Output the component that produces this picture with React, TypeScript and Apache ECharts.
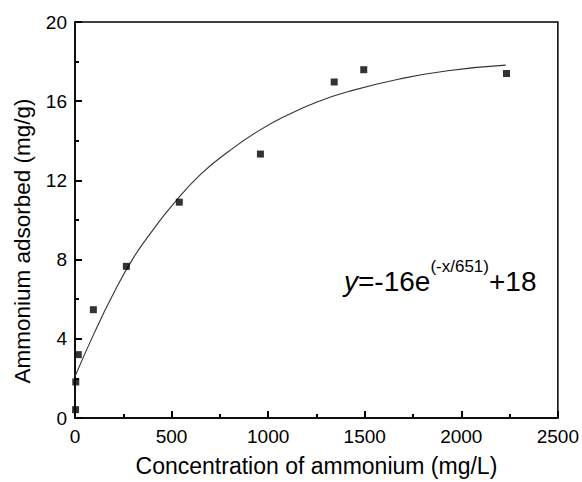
import React, { useEffect, useRef } from "react";
import * as echarts from "echarts";

const xTicks = [0, 500, 1000, 1500, 2000, 2500];
const yTicks = [0, 4, 8, 12, 16, 20];

// measured data points: concentration (mg/L), adsorbed (mg/g)
const pointX = [3, 4, 17, 95, 266, 540, 960, 1342, 1495, 2234];
const pointY = [0.42, 1.82, 3.2, 5.47, 7.66, 10.9, 13.33, 16.97, 17.59, 17.4];

// fitted curve
const curveX = [0, 100, 200, 300, 400, 500, 650, 800, 950, 1100, 1250, 1420, 1680, 1930, 2230];
const curveY = [2.1, 4.3, 6.3, 8.05, 9.45, 10.7, 12.3, 13.5, 14.5, 15.3, 15.95, 16.5, 17.12, 17.54, 17.82];

const xTitle = "Concentration of ammonium (mg/L)";
const yTitle = "Ammonium adsorbed (mg/g)";

const FONT = "'Liberation Sans', Arial, sans-serif";

export default function App() {
  const ref = useRef<HTMLDivElement>(null);
  useEffect(() => {
    if (!ref.current) return;
    const chart = echarts.init(ref.current, undefined, { renderer: "svg" });
    const points = pointX.map((x, i) => [x, pointY[i]]);
    const curve = curveX.map((x, i) => [x, curveY[i]]);
    chart.setOption({
      animation: false,
      backgroundColor: "#fff",
      textStyle: { fontFamily: FONT },
      grid: {
        left: 75,
        right: 22,
        top: 22,
        bottom: 62,
        show: true,
        borderColor: "#000",
        borderWidth: 1.5,
        backgroundColor: "transparent",
      },
      xAxis: {
        type: "value",
        min: xTicks[0],
        max: xTicks[xTicks.length - 1],
        interval: 500,
        name: xTitle,
        nameLocation: "middle",
        nameGap: 36,
        nameTextStyle: { fontSize: 23, color: "#000", fontFamily: FONT },
        axisLine: { show: true, onZero: false, lineStyle: { color: "#000", width: 1.5 } },
        axisTick: { show: true, inside: true, length: 7, lineStyle: { color: "#000", width: 2 } },
        minorTick: { show: true, splitNumber: 2, length: 4, lineStyle: { color: "#000", width: 2 } },
        axisLabel: {
          fontSize: 19,
          color: "#000",
          margin: 9,
          fontFamily: FONT,
          formatter: (v: number) => String(v),
        },
        splitLine: { show: false },
      },
      yAxis: {
        type: "value",
        min: yTicks[0],
        max: yTicks[yTicks.length - 1],
        interval: 4,
        axisLine: { show: true, onZero: false, lineStyle: { color: "#000", width: 1.5 } },
        axisTick: { show: true, inside: true, length: 7, lineStyle: { color: "#000", width: 2 } },
        minorTick: { show: true, splitNumber: 2, length: 4, lineStyle: { color: "#000", width: 2 } },
        axisLabel: {
          fontSize: 19,
          color: "#000",
          margin: 8,
          fontFamily: FONT,
          formatter: (v: number) => String(v),
        },
        splitLine: { show: false },
      },
      graphic: [
        {
          type: "text",
          x: 22,
          y: 241,
          rotation: Math.PI / 2,
          style: {
            text: yTitle,
            fontSize: 22.5,
            fontFamily: FONT,
            fill: "#000",
            align: "center",
            verticalAlign: "middle",
          },
        },
        {
          type: "text",
          x: 344,
          y: 295,
          style: {
            text: "{i|y}{n|=-16e}{s|(-x/651)}{n|+18}",
            fontFamily: FONT,
            fill: "#000",
            align: "left",
            verticalAlign: "bottom",
            rich: {
              i: { fontSize: 28, fontStyle: "italic", fontFamily: FONT, fill: "#000", lineHeight: 37, verticalAlign: "bottom" },
              n: { fontSize: 28, fontFamily: FONT, fill: "#000", lineHeight: 37, verticalAlign: "bottom" },
              s: { fontSize: 17, fontFamily: FONT, fill: "#000", lineHeight: 28, verticalAlign: "top" },
            },
          },
        },
      ],
      series: [
        {
          type: "line",
          data: curve,
          smooth: 0.5,
          showSymbol: false,
          symbol: "none",
          lineStyle: { color: "#333", width: 1.1 },
          z: 2,
        },
        {
          type: "scatter",
          data: points,
          symbol: "rect",
          symbolSize: 7,
          itemStyle: { color: "#000" },
          z: 3,
        },
      ],
    });
    return () => chart.dispose();
  }, []);
  return (
    <div
      ref={ref}
      style={{ position: "fixed", left: 0, top: 0, width: 582, height: 482 }}
    />
  );
}
